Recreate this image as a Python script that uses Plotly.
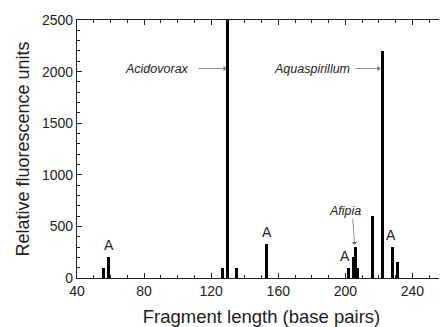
import plotly.graph_objects as go

# Data
fragment_length = [56, 59, 127, 130, 135, 153, 202, 204.8, 206, 207.3, 216, 222, 228, 231]
fluorescence = [100, 205, 100, 2600, 100, 325, 100, 200, 305, 100, 600, 2200, 300, 152]

x_ticks = [40, 80, 120, 160, 200, 240]
y_ticks = [0, 500, 1000, 1500, 2000, 2500]

# "A" labels (x, y)
a_labels_x = [59, 153, 199.5, 227.5]
a_labels_y = [320, 445, 210, 415]

fig = go.Figure()
fig.add_trace(go.Bar(
    x=fragment_length, y=fluorescence, width=1.8,
    marker=dict(color="black", line=dict(width=0)),
    showlegend=False,
))

font = "Liberation Sans, Arial, sans-serif"
ann = []
for ax_, ay_ in zip(a_labels_x, a_labels_y):
    ann.append(dict(x=ax_, y=ay_, text="A", showarrow=False, xref="x", yref="y",
                    font=dict(size=14, color="#222", family=font)))

# species labels
ann.append(dict(x=87.6, y=2025, text="<i>Acidovorax</i>", showarrow=False,
                font=dict(size=12.5, color="#222", family=font)))
ann.append(dict(x=180, y=2025, text="<i>Aquaspirillum</i>", showarrow=False,
                font=dict(size=12.5, color="#222", family=font)))
ann.append(dict(x=199.6, y=650, text="<i>Afipia</i>", showarrow=False,
                font=dict(size=12.5, color="#222", family=font)))

# arrows
arrows = [((111.5, 2030), (129.2, 2030)), ((205, 2030), (221, 2030)), ((204.3, 590), (205.5, 320))]
for (sx, sy), (ex, ey) in arrows:
    ann.append(dict(x=ex, y=ey, ax=sx, ay=sy, xref="x", yref="y", axref="x", ayref="y",
                    text="", showarrow=True, arrowhead=1, arrowsize=1.3, arrowwidth=0.8,
                    arrowcolor="#777", standoff=0, startstandoff=0))

fig.update_layout(
    width=439, height=319,
    margin=dict(l=69, r=1, t=12, b=49),
    plot_bgcolor="white", paper_bgcolor="white",
    font=dict(family=font, color="#222"),
    annotations=ann,
    bargap=0,
)
fig.update_xaxes(
    range=[40, 260], tickvals=x_ticks, ticks="inside", ticklen=5, tickcolor="#222",
    showline=True, linecolor="#222", linewidth=1.3, mirror="ticks", showgrid=False, zeroline=False,
    automargin=False,
    tickfont=dict(size=14), title=dict(text="Fragment length (base pairs)", font=dict(size=18.5), standoff=16),
    minor=dict(dtick=10, ticks="inside", ticklen=3, tickcolor="#222", showgrid=False),
)
fig.update_yaxes(
    range=[0, 2500], tickvals=y_ticks, ticks="inside", ticklen=5, tickcolor="#222",
    showline=True, linecolor="#222", linewidth=1.3, mirror="ticks", showgrid=False, zeroline=False,
    tickfont=dict(size=14), title=dict(text="Relative fluorescence units", font=dict(size=18), standoff=7),
    minor=dict(dtick=100, ticks="inside", ticklen=3, tickcolor="#222", showgrid=False),
)

fig.write_html("out.html")
